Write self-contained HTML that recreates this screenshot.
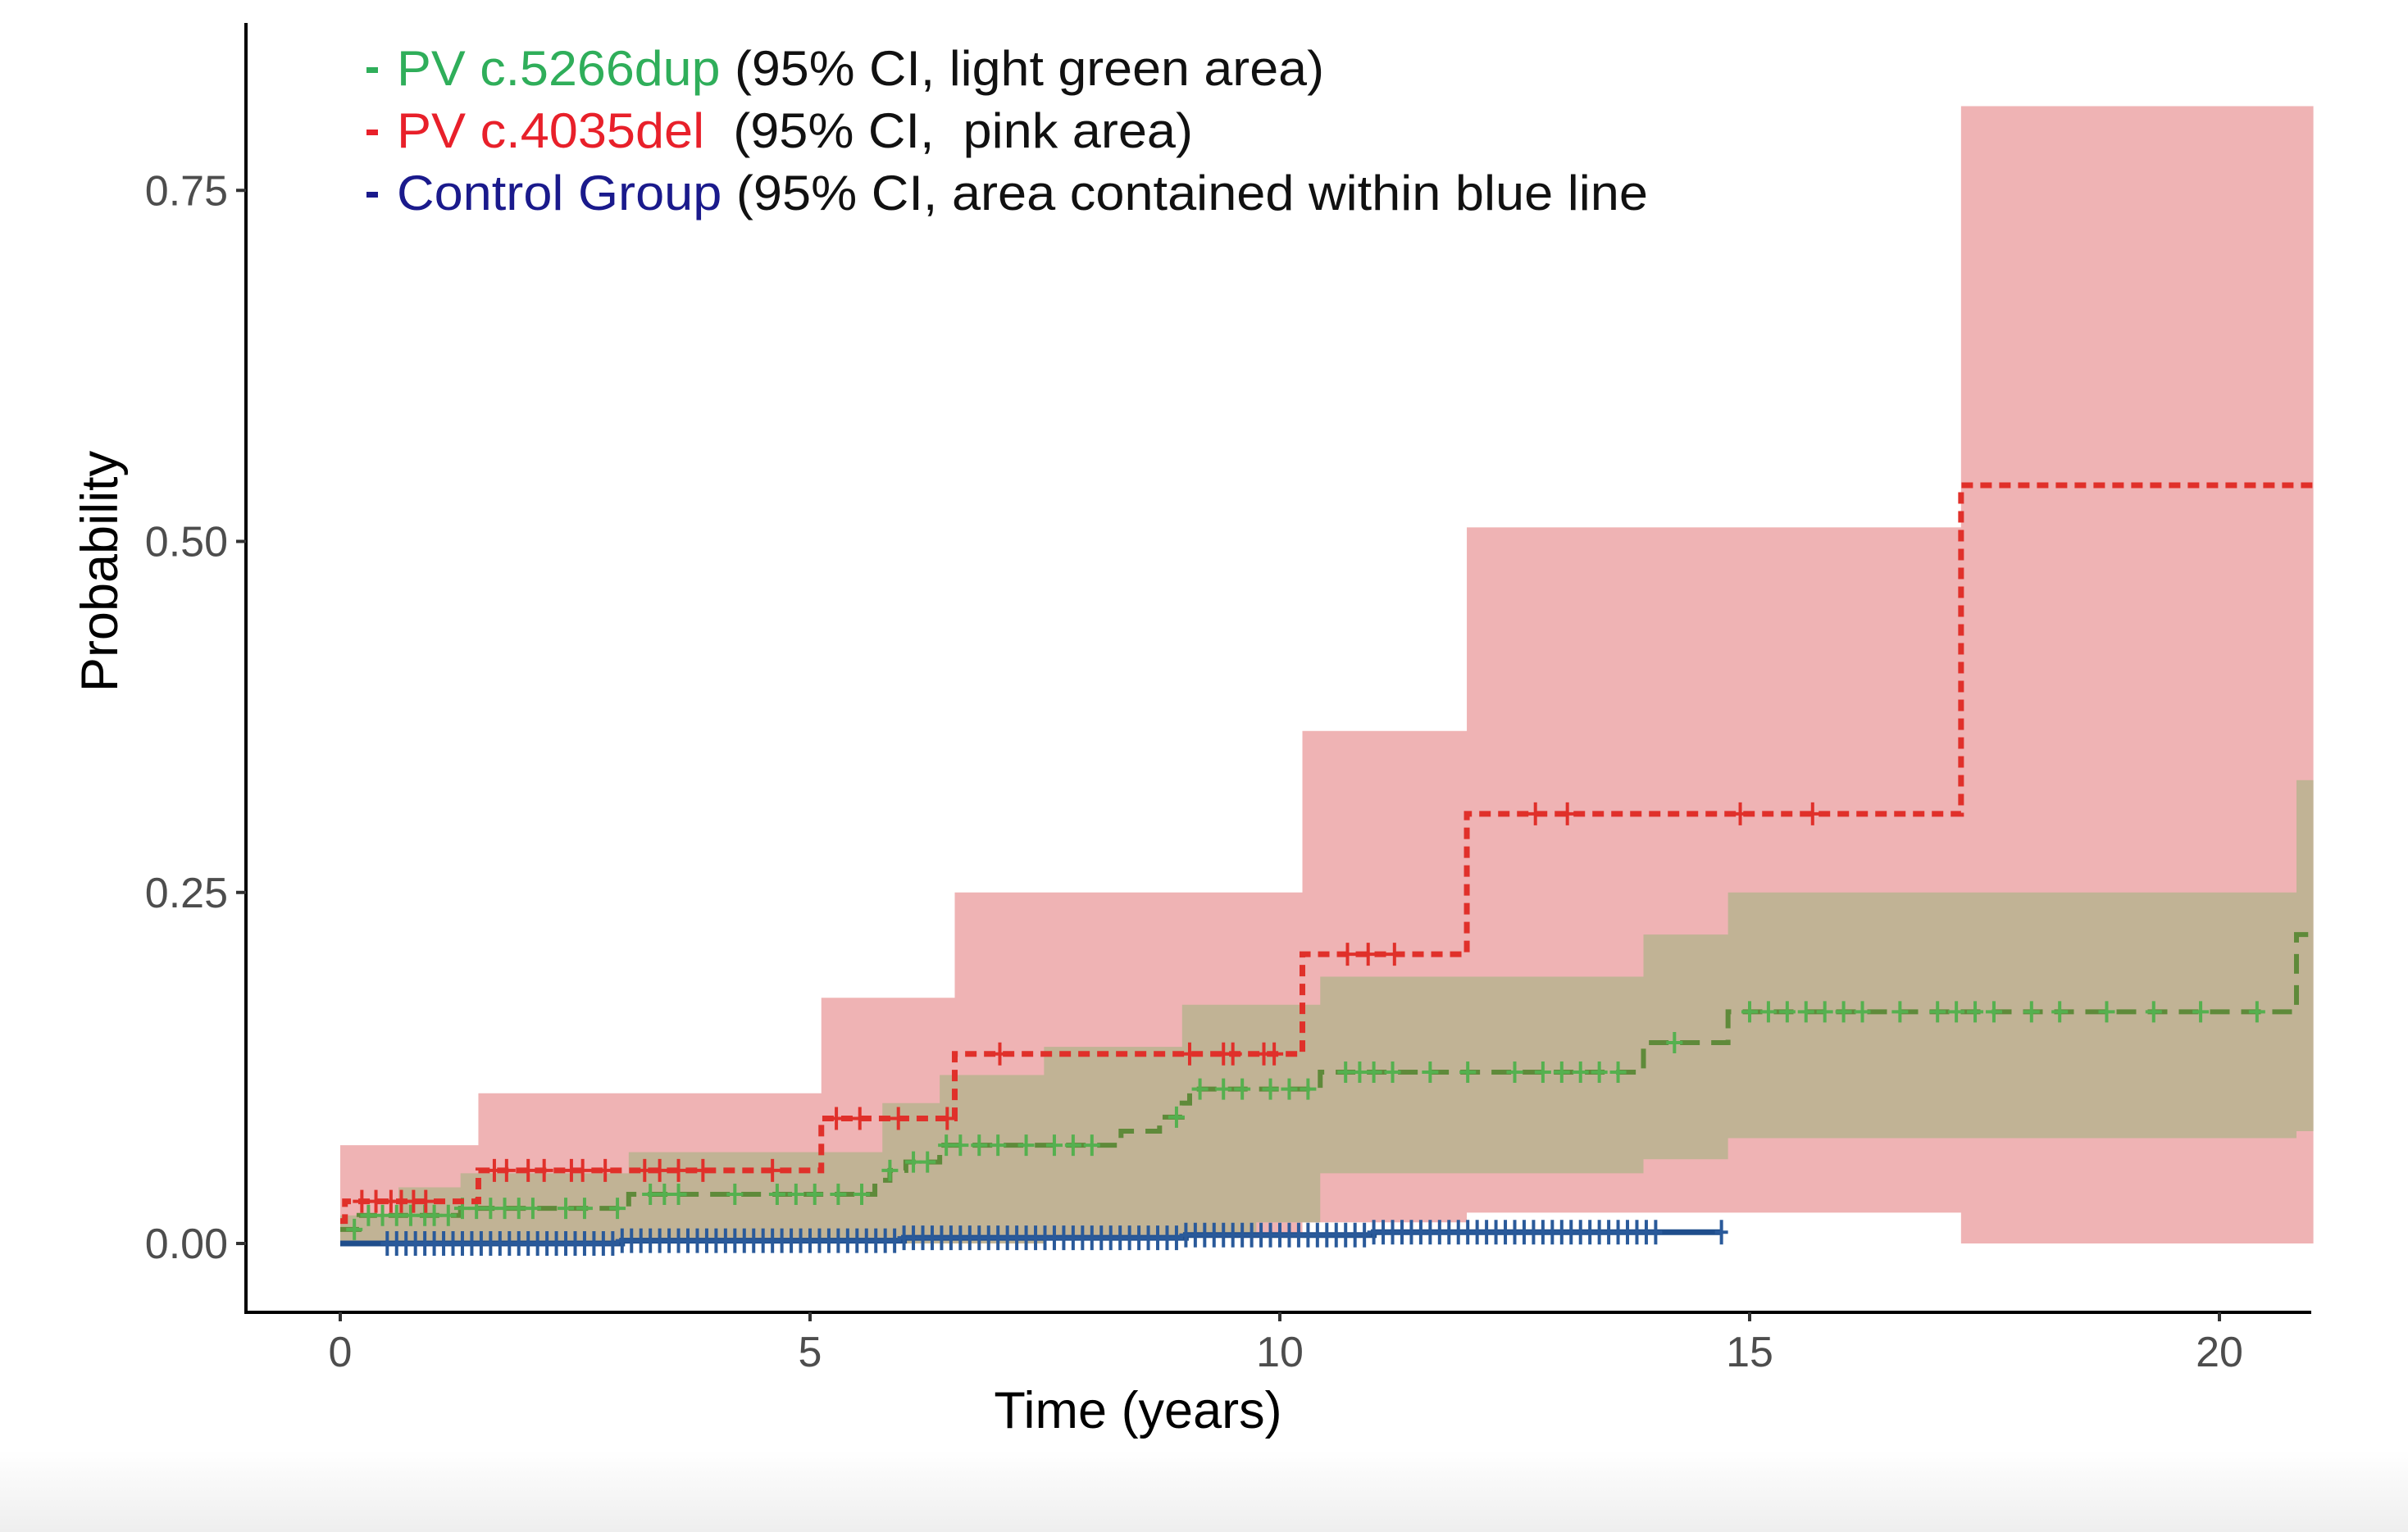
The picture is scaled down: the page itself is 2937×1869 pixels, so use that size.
<!DOCTYPE html>
<html><head><meta charset="utf-8"><style>
html,body{margin:0;padding:0;background:#fff}
svg{display:block}
text{font-family:"Liberation Sans",Arial,sans-serif}
</style></head><body>
<svg id="chart" width="2937" height="1869" viewBox="0 0 2937 1869" xmlns="http://www.w3.org/2000/svg">
<defs><linearGradient id="bg" x1="0" y1="0" x2="0" y2="1"><stop offset="0" stop-color="#ffffff"/><stop offset="1" stop-color="#eeeeee"/></linearGradient></defs>
<rect x="0" y="1770" width="2937" height="99" fill="url(#bg)"/>
<g id="plot"></g>
<line x1="300" y1="28" x2="300" y2="1601" stroke="#000" stroke-width="4"/>
<line x1="298" y1="1601" x2="2819" y2="1601" stroke="#000" stroke-width="4"/>
<g id="axes"></g>
<text x="1388" y="1742" font-size="63" text-anchor="middle" fill="#000">Time (years)</text>
<text transform="translate(143,697) rotate(-90)" font-size="63" text-anchor="middle" fill="#000">Probability</text>
<g font-size="60">
<g><rect x="447" y="82" width="14" height="7" fill="#2fae5a"/><text x="484" y="104" textLength="1131" lengthAdjust="spacingAndGlyphs"><tspan fill="#2fae5a">PV c.5266dup</tspan><tspan fill="#111"> (95% CI, light green area)</tspan></text></g>
<g><rect x="447" y="158" width="14" height="7" fill="#e8202a"/><text x="484" y="180" textLength="971" lengthAdjust="spacingAndGlyphs" xml:space="preserve"><tspan fill="#e8202a">PV c.4035del</tspan><tspan fill="#111">  (95% CI,  pink area)</tspan></text></g>
<g><rect x="447" y="234" width="14" height="7" fill="#1a1a8c"/><text x="484" y="256" textLength="1526" lengthAdjust="spacingAndGlyphs"><tspan fill="#1a1a8c">Control Group</tspan><tspan fill="#111"> (95% CI, area contained within blue line</tspan></text></g>
</g>
</svg>
<script>
// step times (years) and values
const redTimes = [0, 0.05, 1.47, 5.12, 6.54, 10.24, 11.99, 17.25];
const redValues = [0.016, 0.03, 0.052, 0.089, 0.135, 0.206, 0.306, 0.54];
const redUpper = [0.07, 0.07, 0.107, 0.175, 0.25, 0.365, 0.51, 0.81];
const redLower = [0, 0, 0, 0, 0.005, 0.015, 0.022, 0];
const redCensor = [0.23,0.38,0.54,0.65,0.78,0.91,1.64,1.77,2.0,2.17,2.46,2.58,2.82,3.24,3.4,3.6,3.86,4.6,5.28,5.53,5.94,6.46,7.02,9.04,9.4,9.5,9.83,9.94,10.72,10.94,11.22,12.72,13.06,14.9,15.67];
const greenTimes = [0, 0.2, 1.28, 3.07, 5.69, 5.85, 6.02, 6.38, 8.31, 8.72, 8.96, 9.04, 10.43, 13.87, 14.77, 20.82];
const greenValues = [0.01, 0.02, 0.025, 0.035, 0.045, 0.052, 0.058, 0.07, 0.08, 0.09, 0.1, 0.11, 0.122, 0.143, 0.165, 0.22];
const greenUpperTimes = [0, 0.62, 1.28, 3.07, 5.77, 6.38, 7.49, 8.96, 10.43, 13.87, 14.77, 20.82];
const greenUpper = [0.02, 0.04, 0.05, 0.065, 0.1, 0.12, 0.14, 0.17, 0.19, 0.22, 0.25, 0.33];
const greenLowerTimes = [0, 7.49, 9.75, 10.43, 13.87, 14.77, 20.82];
const greenLower = [0, 0.005, 0.015, 0.05, 0.06, 0.075, 0.08];
const greenCensor = [0.15,0.3,0.45,0.6,0.75,0.9,1.0,1.15,1.3,1.45,1.6,1.75,1.9,2.05,2.4,2.6,2.95,3.3,3.45,3.6,4.2,4.65,4.85,5.05,5.3,5.55,5.85,6.1,6.25,6.45,6.6,6.8,7.0,7.3,7.6,7.8,8.0,8.9,9.15,9.4,9.6,9.9,10.1,10.3,10.7,10.85,11.0,11.2,11.6,12.0,12.5,12.8,13.0,13.2,13.4,13.6,14.2,15.0,15.2,15.4,15.6,15.8,16.0,16.2,16.6,17.0,17.2,17.4,17.6,18.0,18.3,18.8,19.3,19.8,20.4];
const blueTimes = [0, 3, 6, 9, 11, 14.7];
const blueValues = [0, 0.002, 0.004, 0.006, 0.008, 0.008];
const blueCensor = [0.5,0.6,0.7,0.8,0.9,1.0,1.1,1.2,1.3,1.4,1.5,1.6,1.7,1.8,1.9,2.0,2.1,2.2,2.3,2.4,2.5,2.6,2.7,2.8,2.9,3.0,3.1,3.2,3.3,3.4,3.5,3.6,3.7,3.8,3.9,4.0,4.1,4.2,4.3,4.4,4.5,4.6,4.7,4.8,4.9,5.0,5.1,5.2,5.3,5.4,5.5,5.6,5.7,5.8,5.9,6.0,6.1,6.2,6.3,6.4,6.5,6.6,6.7,6.8,6.9,7.0,7.1,7.2,7.3,7.4,7.5,7.6,7.7,7.8,7.9,8.0,8.1,8.2,8.3,8.4,8.5,8.6,8.7,8.8,8.9,9.0,9.1,9.2,9.3,9.4,9.5,9.6,9.7,9.8,9.9,10.0,10.1,10.2,10.3,10.4,10.5,10.6,10.7,10.8,10.9,11.0,11.1,11.2,11.3,11.4,11.5,11.6,11.7,11.8,11.9,12.0,12.1,12.2,12.3,12.4,12.5,12.6,12.7,12.8,12.9,13.0,13.1,13.2,13.3,13.4,13.5,13.6,13.7,13.8,13.9,14.0,14.7];
const xTicks = [0, 5, 10, 15, 20];
const yTicks = [0, 0.25, 0.5, 0.75];
const yTickLabels = ["0.00", "0.25", "0.50", "0.75"];
const tMax = 21;

const NS = "http://www.w3.org/2000/svg";
const X = t => 415 + t * 114.6;
const Y = p => 1517 - p * 1713;
const plot = document.getElementById('plot');
const axes = document.getElementById('axes');
function mk(tag, attrs, parent) { const e = document.createElementNS(NS, tag); for (const k in attrs) e.setAttribute(k, attrs[k]); parent.appendChild(e); return e; }
function stepPath(times, vals, end) {
  let d = 'M' + X(times[0]) + ',' + Y(vals[0]);
  for (let i = 1; i < times.length; i++) d += 'H' + X(times[i]) + 'V' + Y(vals[i]);
  return d + 'H' + X(end);
}
function band(tu, up, tl, lo, end) {
  let d = stepPath(tu, up, end);
  d += 'V' + Y(lo[lo.length - 1]);
  for (let i = tl.length - 1; i >= 0; i--) { d += 'H' + X(tl[i]) + (i > 0 ? 'V' + Y(lo[i - 1]) : ''); }
  return d + 'Z';
}
const rb = mk('path', {d: band(redTimes, redUpper, redTimes, redLower, tMax), fill: '#efb3b4'}, plot);


const gb = mk('path', {d: band(greenUpperTimes, greenUpper, greenLowerTimes, greenLower, tMax), fill: '#c1b395'}, plot);


function censor(times, tt, vv, color, name, h, w, sw) {
  const g = mk('g', {stroke: color, 'stroke-width': sw}, plot);
  
  
  times.forEach(t => {
    let v = vv[0]; for (let i = 0; i < tt.length; i++) if (tt[i] <= t) v = vv[i];
    const x = X(t), y = Y(v);
    const p = mk('path', {d: 'M' + (x - w) + ',' + y + 'H' + (x + w) + 'M' + x + ',' + (y - h) + 'V' + (y + h)}, g);
    
    
  });
}
const bl = mk('path', {d: stepPath(blueTimes, blueValues, blueTimes[blueTimes.length - 1]), fill: 'none', stroke: '#1f4e8c', 'stroke-width': 7}, plot);


censor(blueCensor, blueTimes, blueValues, '#2a5a9a', 'censor-control', 15, 8, 4);
const gl = mk('path', {d: stepPath(greenTimes, greenValues, tMax), fill: 'none', stroke: '#5f8a3a', 'stroke-width': 6, 'stroke-dasharray': '24 14'}, plot);


censor(greenCensor, greenTimes, greenValues, '#55b04f', 'censor-c5266dup', 13, 10, 4);
const rl = mk('path', {d: stepPath(redTimes, redValues, tMax), fill: 'none', stroke: '#e0302a', 'stroke-width': 7, 'stroke-dasharray': '14 9'}, plot);


censor(redCensor, redTimes, redValues, '#e0302a', 'censor-c4035del', 14, 11, 4);
xTicks.forEach(t => {
  const l = mk('line', {x1: X(t), x2: X(t), y1: 1601, y2: 1612, stroke: '#333', 'stroke-width': 4}, axes);
  
  
  const tx = mk('text', {x: X(t), y: 1667, 'font-size': 52, fill: '#4d4d4d', 'text-anchor': 'middle'}, axes);
  tx.textContent = String(t);
  
  
});
yTicks.forEach((p, i) => {
  const l = mk('line', {x1: 288, x2: 300, y1: Y(p), y2: Y(p), stroke: '#333', 'stroke-width': 4}, axes);
  
  
  const tx = mk('text', {x: 278, y: Y(p) + 18, 'font-size': 52, fill: '#4d4d4d', 'text-anchor': 'end'}, axes);
  tx.textContent = yTickLabels[i];
  
  
});
</script>
</body></html>
